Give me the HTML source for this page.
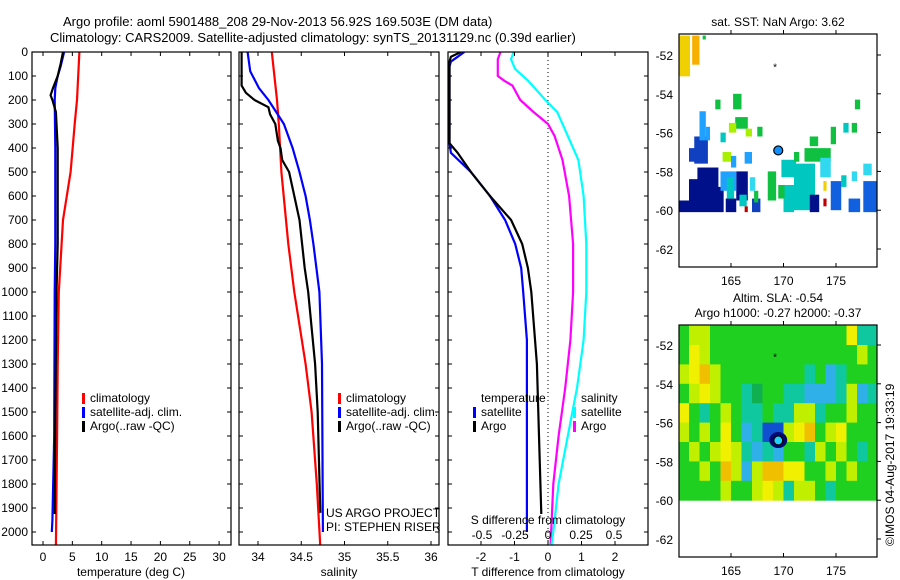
<!DOCTYPE html>
<html><head><meta charset="utf-8">
<style>
body{margin:0;background:#fff;}
svg{display:block;font-family:"Liberation Sans",sans-serif;font-size:12px;}
</style></head>
<body>
<svg id="chart" width="900" height="580" viewBox="0 0 900 580" xmlns="http://www.w3.org/2000/svg">
<rect width="900" height="580" fill="#fff"/>
<text x="63" y="26" font-size="13">Argo profile: aoml 5901488_208 29-Nov-2013 56.92S 169.503E (DM data)</text>
<text x="50" y="42" font-size="13">Climatology: CARS2009. Satellite-adjusted climatology: synTS_20131129.nc (0.39d earlier)</text>
<g id="g1"></g>
<g id="g2"></g>
<g id="g3"></g>
<g id="m1"></g>
<g id="m2"></g>
<text x="778" y="26" text-anchor="middle">sat. SST: NaN Argo: 3.62</text>
<text x="778" y="302" text-anchor="middle">Altim. SLA: -0.54</text>
<text x="778" y="317" text-anchor="middle">Argo h1000: -0.27 h2000: -0.37</text>
<text transform="translate(894,546) rotate(-90)">©IMOS 04-Aug-2017 19:33:19</text>
</svg>
<script>
// ---- data ----
const depthTicks=[0,100,200,300,400,500,600,700,800,900,1000,1100,1200,1300,1400,1500,1600,1700,1800,1900,2000];
const tempTicks=[0,5,10,15,20,25,30];
const salTicks=[34,34.5,35,35.5,36];
const tdTicks=[-2,-1,0,1,2];
const sdTicks=[-0.5,-0.25,0,0.25,0.5];
const lonTicks=[165,170,175];
const latTicks=[-52,-54,-56,-58,-60,-62];

const climTdep=[0,100,200,300,500,700,1000,1300,1600,2060];
const climT=[6.2,6.0,5.8,5.4,4.7,3.4,2.7,2.5,2.4,2.2];
const satTdep=[0,60,100,150,200,400,800,1000,1600,1950,2000];
const satT=[3.6,3.0,2.5,2.1,2.0,2.1,2.1,2.0,1.9,1.6,1.5];
const argoTdep=[0,50,100,150,180,200,250,400,800,1000,1500,1900,1925];
const argoT=[3.4,3.0,2.5,1.7,1.3,1.6,2.2,2.5,2.5,2.3,2.1,2.0,2.0];

const climSdep=[0,100,200,300,500,800,1000,1300,1500,1800,2060];
const climS=[34.16,34.19,34.22,34.24,34.27,34.35,34.42,34.55,34.62,34.68,34.72];
const satSdep=[0,80,150,200,250,300,400,500,600,700,800,1000,1300,2000];
const satS=[33.88,33.91,34.01,34.12,34.21,34.30,34.40,34.48,34.55,34.60,34.64,34.71,34.74,34.75];
const argoSdep=[0,60,140,170,200,230,260,300,370,400,450,500,600,700,800,900,1000,1300,1500,1920];
const argoS=[33.81,33.81,33.81,33.86,33.96,34.12,34.14,34.20,34.23,34.26,34.28,34.36,34.42,34.48,34.51,34.54,34.58,34.66,34.69,34.72];

const satTdDep=[0,20,40,60,380,420,500,600,700,800,900,1000,1200,2000];
const satTd=[-2.5,-2.7,-2.9,-2.94,-2.94,-2.9,-2.3,-1.73,-1.28,-0.98,-0.8,-0.74,-0.63,-0.63];
const argoTdDep=[0,20,40,380,420,500,600,700,800,900,1000,1300,1600,1925];
const argoTd=[-2.6,-2.9,-2.94,-2.94,-2.7,-2.3,-1.73,-1.1,-0.77,-0.6,-0.5,-0.33,-0.27,-0.2];
const satSdDep=[0,30,70,120,200,250,350,450,600,800,1000,1200,1400,1600,1800,2000,2080];
const satSd=[-0.26,-0.28,-0.25,-0.15,-0.02,0.07,0.15,0.23,0.27,0.29,0.29,0.27,0.22,0.15,0.08,0.04,0.02];
const argoSdDep=[0,30,100,120,140,200,250,300,350,450,600,800,1000,1200,1400,1600,1800,2050];
const argoSd=[-0.36,-0.38,-0.38,-0.33,-0.27,-0.21,-0.11,0,0.05,0.11,0.16,0.19,0.19,0.17,0.13,0.08,0.04,0.02];

// SST map cells: lon0, lat0(top), lon1, lat1(bottom), colour key
const sstCells=[
[160.05,-51,161.1,-53.1,'Y'],[161.3,-51,162,-52.5,'O'],[162.3,-51,162.6,-51.2,'G'],
[160,-59.5,161,-60.1,'N'],[161,-58.4,163,-60.1,'N'],[161.8,-57.8,163.8,-59.8,'N'],[161.5,-56.2,162.8,-57.6,'D'],
[161,-56.8,162,-57.5,'D'],[163,-58.8,164.3,-60.1,'N'],[164.5,-59.4,165.5,-60.1,'N'],[165.5,-58,166.6,-59.5,'N'],[167,-59.4,167.8,-60.1,'D'],
[162,-54.9,162.6,-56.4,'L'],[162.6,-55.7,163,-56.4,'L'],[164,-58,165.5,-59,'L'],[165,-57.2,165.5,-57.8,'L'],[166.3,-57,167,-57.6,'L'],
[164.6,-58.3,165.3,-59.4,'T'],[165.8,-59.2,166.5,-59.8,'T'],
[169.8,-57.4,171.2,-58.3,'T'],[171,-57.6,173,-60,'T'],[170,-58.7,171,-60.1,'T'],
[163.5,-54.3,164,-54.8,'G'],[165.2,-54,166,-54.8,'G'],[165.4,-55.2,166.6,-55.8,'G'],[167.5,-55.7,168,-56.2,'G'],
[168.5,-58,169.3,-59.5,'G'],[169.5,-58.7,170.1,-59.4,'G'],[171,-57,171.5,-57.5,'G'],[172.5,-56.2,173.3,-56.7,'G'],
[172,-56.8,174.5,-57.5,'G'],[174.5,-55.7,175,-56.6,'G'],[176.8,-54.3,177.3,-54.8,'G'],[176.5,-55.5,177,-56,'G'],[167.2,-59,167.6,-59.6,'G'],
[164.2,-57,165,-57.5,'V'],[164.8,-55.5,165.5,-56,'V'],[166.4,-55.8,167,-56.2,'V'],
[164,-56,164.5,-56.5,'T'],[175.7,-55.5,176.2,-56,'T'],[175.5,-58.2,176,-58.8,'T'],
[174.5,-58.5,175.5,-60,'B'],[176.2,-59.4,177.3,-60.1,'B'],[172.5,-59.2,173.4,-60.1,'N'],[177.6,-58.5,178.9,-60.1,'B'],
[177.6,-57.6,178.4,-58.2,'C'],[176.5,-58,177,-58.5,'C'],[173.5,-57.3,174.5,-58.3,'C'],[166.8,-58.3,167.3,-59,'C'],
[166.3,-59.8,166.6,-60.1,'R'],[173.8,-58.5,174.1,-59,'Y'],[173.8,-59.4,174.1,-59.8,'R']];

// SLA grid: rows from lat -51 (top) downward, 1 degree each, cols lon 160..178
const slaRows=[
"gyygggggggggggggYcc",
"gYyggggggggggggggyg",
"yYoyggggggggcgbcggg",
"gyYyggcGggccbbbcybc",
"Ygcgygccgccyycggygg",
"ygygYgbcBByYogyYggg",
"gygyYycbcbggcygygcg",
"ggygoybyooYYggygygg",
"ggggyggyYycyygcgggg"];

const colors={Y:'#f0d000',O:'#f8b000',G:'#10c040',N:'#00108a',D:'#1040c0',L:'#20a0ff',T:'#00c8c0',V:'#a8f000',B:'#1060e0',C:'#30d8f0',R:'#c00000'};
const slaColors={g:'#20d020',G:'#10b050',c:'#10c8a0',b:'#30b0e8',B:'#1050d0',y:'#c0f000',Y:'#f0f000',o:'#f0c000'};

// ---- helpers ----
const NS='http://www.w3.org/2000/svg';
function mk(parent,tag,attrs){const e=document.createElementNS(NS,tag);for(const k in attrs)e.setAttribute(k,attrs[k]);parent.appendChild(e);return e;}
const depthY=d=>52+d*0.24;
const PY0=52,PY1=545;

function panel(g,x0,x1,name){
  const r=mk(g,'rect',{x:x0,y:PY0,width:x1-x0,height:PY1-PY0,fill:'none',stroke:'#000','stroke-width':1.2});
  
  
  depthTicks.forEach(d=>{
    const y=depthY(d);
    const t=mk(g,'path',{d:`M${x0},${y}h4M${x1},${y}h-4`,stroke:'#000'});
    
    
  });
}
function xticks(g,vals,fx,labY,name){
  vals.forEach(v=>{
    const x=fx(v);
    const t=mk(g,'path',{d:`M${x},${PY0}v4M${x},${PY1}v-4`,stroke:'#000'});
    
    
    const l=mk(g,'text',{x:x,y:labY,'text-anchor':'middle'});l.textContent=v;
    
    
  });
}
function line(g,deps,vals,fx,col,name){
  let d='';
  for(let i=0;i<deps.length;i++){d+=(i?'L':'M')+fx(vals[i]).toFixed(1)+','+depthY(deps[i]).toFixed(1);}
  const p=mk(g,'path',{d:d,fill:'none',stroke:col,'stroke-width':2.2});
  
  
}
function txt(g,x,y,s,name,anchor){const t=mk(g,'text',{x:x,y:y,'text-anchor':anchor||'start'});t.textContent=s;
  
  return t;}
function legend(g,x,y,col,label,name){
  const m=mk(g,'rect',{x:x,y:y-9,width:3,height:11,fill:col});
  
  
  txt(g,x+8,y,label,name+'-label');
}

// ---- panel 1 temperature ----
const g1=document.getElementById('g1');
const fT=t=>43+t*5.87;
const clip1=mk(g1,'clipPath',{id:'c1'});mk(clip1,'rect',{x:32,y:52,width:199,height:493});
const c1=mk(g1,'g',{'clip-path':'url(#c1)'});
line(c1,climTdep,climT,fT,'#f00','clim-temperature-line');
line(c1,satTdep,satT,fT,'#00f','sat-temperature-line');
line(c1,argoTdep,argoT,fT,'#000','argo-temperature-line');
panel(g1,32,231,'temperature-panel');
xticks(g1,tempTicks,fT,561,'temperature');
depthTicks.forEach(d=>txt(g1,28,depthY(d)+4,String(d),'depth-label','end'));
txt(g1,131,576,'temperature (deg C)','temperature-axis-title','middle');
legend(g1,82,402,'#f00','climatology','legend-climatology');
legend(g1,82,416,'#00f','satellite-adj. clim.','legend-satellite');
legend(g1,82,430,'#000','Argo(..raw -QC)','legend-argo');

// ---- panel 2 salinity ----
const g2=document.getElementById('g2');
const fS=s=>258+(s-34)*86.5;
const clip2=mk(g2,'clipPath',{id:'c2'});mk(clip2,'rect',{x:239,y:52,width:200,height:493});
const c2=mk(g2,'g',{'clip-path':'url(#c2)'});
line(c2,climSdep,climS,fS,'#f00','clim-salinity-line');
line(c2,satSdep,satS,fS,'#00f','sat-salinity-line');
line(c2,argoSdep,argoS,fS,'#000','argo-salinity-line');
panel(g2,239,439,'salinity-panel');
xticks(g2,salTicks,fS,561,'salinity');
txt(g2,339,576,'salinity','salinity-axis-title','middle');
legend(g2,338,402,'#f00','climatology','legend2-climatology');
legend(g2,338,416,'#00f','satellite-adj. clim.','legend2-satellite');
legend(g2,338,430,'#000','Argo(..raw -QC)','legend2-argo');
txt(g2,326,517,'US ARGO PROJECT','project-credit');
txt(g2,326,531,'PI: STEPHEN RISER','pi-credit');

// ---- panel 3 differences ----
const g3=document.getElementById('g3');
const fTd=v=>548+v*33.5;
const fSd=v=>548+v*132;
const clip3=mk(g3,'clipPath',{id:'c3'});mk(clip3,'rect',{x:448,y:52,width:200,height:493});
const c3=mk(g3,'g',{'clip-path':'url(#c3)'});
const dl=mk(c3,'line',{x1:548,y1:52,x2:548,y2:545,stroke:'#000','stroke-dasharray':'1,3'});


line(c3,argoSdDep,argoSd,fSd,'#f0f','argo-sdiff-line');
line(c3,satSdDep,satSd,fSd,'#0ff','sat-sdiff-line');
line(c3,satTdDep,satTd,fTd,'#00f','sat-tdiff-line');
line(c3,argoTdDep,argoTd,fTd,'#000','argo-tdiff-line');
panel(g3,448,648,'difference-panel');
xticks(g3,tdTicks,fTd,561,'tdiff');
sdTicks.forEach(v=>{txt(g3,fSd(v),539,String(v),'sdiff-tick-label','middle');});
txt(g3,548,524,'S difference from climatology','sdiff-axis-title','middle');
txt(g3,548,576,'T difference from climatology','tdiff-axis-title','middle');
txt(g3,481,402,'temperature','legend-temperature-heading');
legend(g3,473,416,'#00f','satellite','legend-t-satellite');
legend(g3,473,430,'#000','Argo','legend-t-argo');
txt(g3,581,402,'salinity','legend-salinity-heading');
legend(g3,573,416,'#0ff','satellite','legend-s-satellite');
legend(g3,573,430,'#f0f','Argo','legend-s-argo');

// ---- maps ----
const fLon=l=>731+(l-165)*10.5;
function mapFrame(g,y0,y1,latY,name){
  const r=mk(g,'rect',{x:679,y:y0,width:198,height:y1-y0,fill:'none',stroke:'#000','stroke-width':1.2});
  
  
  lonTicks.forEach(l=>{const x=fLon(l);
    const t=mk(g,'path',{d:`M${x},${y0}v-4M${x},${y1}v-4`,stroke:'#000'});
    
    
    txt(g,x,y1+18,String(l),name+'-lon-label','middle');});
  latTicks.forEach(l=>{const y=latY(l);
    const t=mk(g,'path',{d:`M877,${y}h4`,stroke:'#000'});
    
    
    txt(g,673,y+5,String(l),name+'-lat-label','end');});
}
// map1
const m1=document.getElementById('m1');
const lat1=l=>55+(-52-l)*19.4;
sstCells.forEach(c=>{
  const r=mk(m1,'rect',{x:fLon(c[0]),y:lat1(c[1]),width:(c[2]-c[0])*10.5,height:(c[1]-c[3])*19.4,fill:colors[c[4]]});
  
  
});
mapFrame(m1,34,267,lat1,'sst-map');
const s1=txt(m1,fLon(169.2),lat1(-52.6)+4,'*','sst-float-marker','middle');s1.setAttribute('font-size','10');
const p1=mk(m1,'circle',{cx:fLon(169.5),cy:lat1(-56.92),r:4.5,fill:'#1090ff',stroke:'#000','stroke-width':1.2});


// map2
const m2=document.getElementById('m2');
const lat2=l=>345+(-52-l)*19.4;
slaRows.forEach((row,i)=>{
  for(let j=0;j<row.length;j++){
    const lon=160+j, lat=-51-i;
    const x0=Math.max(679,fLon(lon)), x1=Math.min(877,fLon(lon+1));
    const r=mk(m2,'rect',{x:x0,y:lat2(lat),width:x1-x0+0.5,height:19.9,fill:slaColors[row[j]]});
    
    
  }
});
const eddy=mk(m2,'ellipse',{cx:fLon(169.5),cy:lat2(-56.9),rx:9,ry:8,fill:'#000a70'});


mapFrame(m2,325,557,lat2,'sla-map');
const s2=txt(m2,fLon(169.2),lat2(-52.6)+4,'*','sla-float-marker','middle');s2.setAttribute('font-size','10');
const p2=mk(m2,'circle',{cx:fLon(169.5),cy:lat2(-56.92),r:4.5,fill:'#20d0ff',stroke:'#000','stroke-width':1.2});


</script>
</body></html>
